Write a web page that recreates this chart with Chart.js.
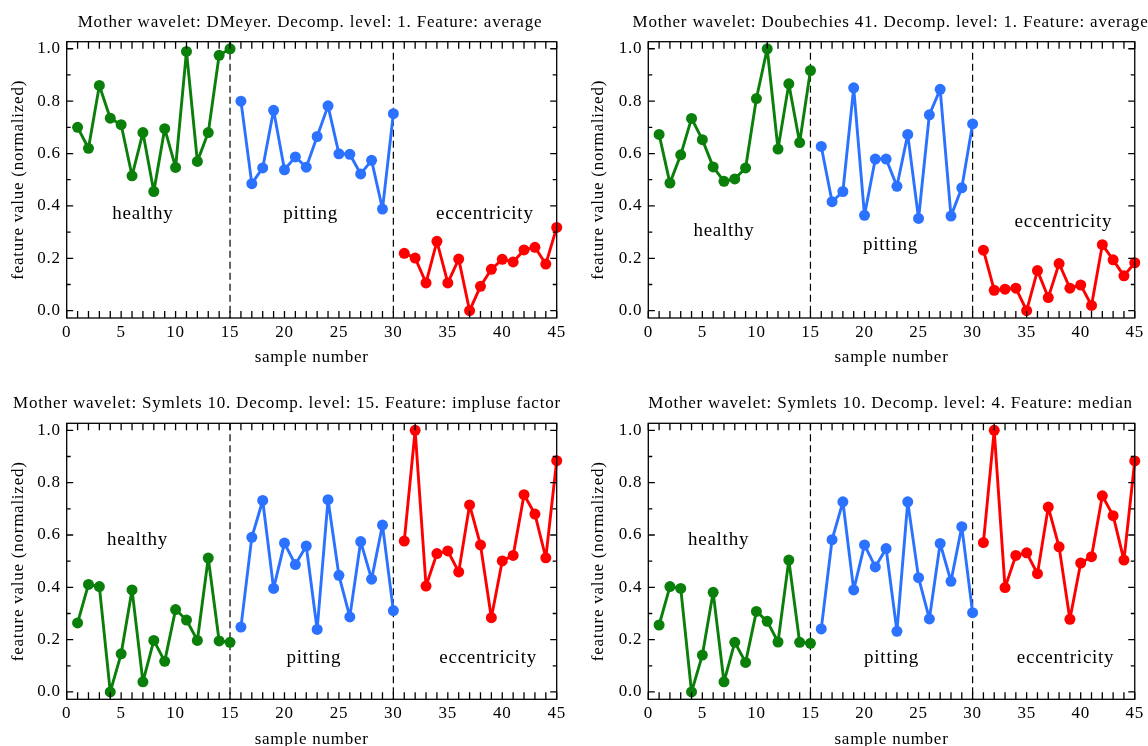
<!DOCTYPE html>
<html>
<head>
<meta charset="utf-8">
<script src="https://cdn.jsdelivr.net/npm/chart.js@4.4.1/dist/chart.umd.min.js"></script>
<style>
  html, body { margin: 0; padding: 0; background: #fff; overflow: hidden; width: 1148px; height: 746px; }
  canvas { position: absolute; }
</style>
</head>
<body>
<canvas id="panelA" width="574" height="373" style="left:0px;top:0px"></canvas>
<canvas id="panelB" width="574" height="373" style="left:574px;top:0px"></canvas>
<canvas id="panelC" width="574" height="380" style="left:0px;top:373px"></canvas>
<canvas id="panelD" width="574" height="380" style="left:574px;top:373px"></canvas>
<script>
// Classes of motor condition, 15 samples each
const classNames = ['healthy', 'pitting', 'eccentricity'];
const samplesPerClass = 15;
const classDividers = [15, 30];

// Axis ticks
const xTickValues = [0, 5, 10, 15, 20, 25, 30, 35, 40, 45];
const xMinorTickValues = Array.from({ length: 46 }, (_, i) => i);
const yTickValues = [0.0, 0.2, 0.4, 0.6, 0.8, 1.0];
const yMinorTickValues = [0.1, 0.3, 0.5, 0.7, 0.9];

// DMeyer, level 1, average
const dmeyerHealthy = [0.70, 0.62, 0.86, 0.735, 0.71, 0.515, 0.68, 0.455, 0.695, 0.547, 0.99, 0.57, 0.68, 0.975, 1.0];
const dmeyerPitting = [0.80, 0.485, 0.545, 0.765, 0.538, 0.587, 0.548, 0.665, 0.782, 0.599, 0.597, 0.522, 0.574, 0.388, 0.752];
const dmeyerEccentricity = [0.219, 0.201, 0.106, 0.265, 0.106, 0.197, 0.0, 0.093, 0.158, 0.196, 0.186, 0.232, 0.242, 0.178, 0.318];

// Daubechies 41, level 1, average
const db41Healthy = [0.673, 0.487, 0.595, 0.734, 0.653, 0.549, 0.494, 0.503, 0.545, 0.810, 1.0, 0.617, 0.866, 0.642, 0.917];
const db41Pitting = [0.627, 0.416, 0.455, 0.851, 0.364, 0.579, 0.579, 0.475, 0.673, 0.352, 0.748, 0.845, 0.361, 0.469, 0.713];
const db41Eccentricity = [0.231, 0.078, 0.082, 0.086, 0.0, 0.153, 0.05, 0.18, 0.086, 0.098, 0.02, 0.252, 0.194, 0.133, 0.183];

// Symlets 10, level 15, impulse factor
const sym10L15Healthy = [0.264, 0.411, 0.403, 0.0, 0.146, 0.390, 0.039, 0.197, 0.117, 0.315, 0.275, 0.197, 0.512, 0.195, 0.190];
const sym10L15Pitting = [0.248, 0.591, 0.732, 0.396, 0.569, 0.487, 0.558, 0.239, 0.735, 0.446, 0.287, 0.575, 0.431, 0.638, 0.311];
const sym10L15Eccentricity = [0.577, 1.0, 0.405, 0.529, 0.539, 0.459, 0.715, 0.562, 0.284, 0.501, 0.522, 0.754, 0.680, 0.513, 0.884];

// Symlets 10, level 4, median
const sym10L4Healthy = [0.256, 0.403, 0.396, 0.0, 0.141, 0.381, 0.039, 0.190, 0.113, 0.308, 0.270, 0.191, 0.504, 0.190, 0.186];
const sym10L4Pitting = [0.241, 0.582, 0.727, 0.390, 0.562, 0.478, 0.548, 0.232, 0.727, 0.437, 0.279, 0.568, 0.423, 0.632, 0.303];
const sym10L4Eccentricity = [0.571, 1.0, 0.399, 0.522, 0.532, 0.452, 0.707, 0.555, 0.278, 0.493, 0.517, 0.750, 0.674, 0.504, 0.883];

const panelTitles = [
  'Mother wavelet: DMeyer. Decomp. level: 1. Feature: average',
  'Mother wavelet: Doubechies 41. Decomp. level: 1. Feature: average',
  'Mother wavelet: Symlets 10. Decomp. level: 15. Feature: impluse factor',
  'Mother wavelet: Symlets 10. Decomp. level: 4. Feature: median'
];

// ---- styling and layout ----
const SERIF = "'Liberation Serif', 'Times New Roman', Times, serif";
const SPACING = '0.75px';
const classColors = ['#0a7f0a', '#2a72ff', '#ff0000'];
const AXIS_FONT = 17;
const LABEL_FONT = 19;

const panels = [
  { id: 'panelA', title: panelTitles[0], series: [dmeyerHealthy, dmeyerPitting, dmeyerEccentricity],
    area: { left: 66.7, right: 556.7, top: 41.7, bottom: 318 }, yTitleX: 18.7, xTitleY: 358,
    titleX: 310, titleY: 26.5,
    labelAt: [[7.0, 0.35], [22.4, 0.35], [38.4, 0.35]] },
  { id: 'panelB', title: panelTitles[1], series: [db41Healthy, db41Pitting, db41Eccentricity],
    area: { left: 74.3, right: 565, top: 41.7, bottom: 318 }, yTitleX: 24.7, xTitleY: 358,
    titleX: 316.5, titleY: 26.5,
    labelAt: [[7.0, 0.287], [22.4, 0.23], [38.4, 0.319]] },
  { id: 'panelC', title: panelTitles[2], series: [sym10L15Healthy, sym10L15Pitting, sym10L15Eccentricity],
    area: { left: 66.7, right: 556.7, top: 50.3, bottom: 326.3 }, yTitleX: 18.7, xTitleY: 366.3,
    titleX: 287, titleY: 35.3,
    labelAt: [[6.5, 0.563], [22.7, 0.111], [38.7, 0.111]] },
  { id: 'panelD', title: panelTitles[3], series: [sym10L4Healthy, sym10L4Pitting, sym10L4Eccentricity],
    area: { left: 74.3, right: 565, top: 50.3, bottom: 326.3 }, yTitleX: 24.7, xTitleY: 366.3,
    titleX: 316.5, titleY: 35.3,
    labelAt: [[6.5, 0.563], [22.5, 0.111], [38.6, 0.111]] }
];

// Frame, inward ticks, class dividers and text annotations
const decorPlugin = {
  id: 'decor',
  beforeLayout(chart) { chart.ctx.letterSpacing = SPACING; },
  beforeDraw(chart) { chart.ctx.letterSpacing = SPACING; },
  beforeDatasetsDraw(chart) {
    const { ctx, chartArea: a, scales: { x } } = chart;
    ctx.save();
    ctx.strokeStyle = '#000';
    ctx.lineWidth = 1.2;
    ctx.setLineDash([7, 4]);
    classDividers.forEach(v => {
      const px = x.getPixelForValue(v);
      ctx.beginPath();
      ctx.moveTo(px, a.top);
      ctx.lineTo(px, a.bottom);
      ctx.stroke();
    });
    ctx.restore();
  },
  afterDraw(chart) {
    const { ctx, chartArea: a, scales: { x, y } } = chart;
    const p = chart.options.plugins.decor;
    ctx.save();
    ctx.strokeStyle = '#000';
    ctx.lineWidth = 1.3;
    ctx.setLineDash([]);
    ctx.strokeRect(a.left, a.top, a.right - a.left, a.bottom - a.top);
    ctx.beginPath();
    xMinorTickValues.forEach(v => {
      const px = x.getPixelForValue(v);
      ctx.moveTo(px, a.bottom); ctx.lineTo(px, a.bottom - 7);
      ctx.moveTo(px, a.top); ctx.lineTo(px, a.top + 7);
    });
    yTickValues.forEach(v => {
      const py = y.getPixelForValue(v);
      ctx.moveTo(a.left, py); ctx.lineTo(a.left + 6.5, py);
      ctx.moveTo(a.right, py); ctx.lineTo(a.right - 6.5, py);
    });
    yMinorTickValues.forEach(v => {
      const py = y.getPixelForValue(v);
      ctx.moveTo(a.left, py); ctx.lineTo(a.left + 4, py);
      ctx.moveTo(a.right, py); ctx.lineTo(a.right - 4, py);
    });
    ctx.stroke();

    ctx.fillStyle = '#000';
    ctx.letterSpacing = SPACING;
    ctx.textAlign = 'center';
    ctx.textBaseline = 'alphabetic';
    ctx.font = `${LABEL_FONT}px ${SERIF}`;
    p.labelAt.forEach((pos, k) => {
      ctx.fillText(classNames[k], x.getPixelForValue(pos[0]), y.getPixelForValue(pos[1]));
    });
    ctx.letterSpacing = '0.8px';
    ctx.font = `${AXIS_FONT}px ${SERIF}`;
    ctx.fillText(p.title, p.titleX, p.titleY);
    ctx.restore();
  }
};

function buildChart(p) {
  const canvas = document.getElementById(p.id);
  const W = canvas.width, H = canvas.height;
  const half = AXIS_FONT * 1.2 / 2;
  const padLeft = p.yTitleX - half;
  const xScaleBottom = p.xTitleY + half;
  const datasets = p.series.map((values, k) => ({
    label: classNames[k],
    data: values.map((v, i) => ({ x: k * samplesPerClass + i + 1, y: v })),
    borderColor: classColors[k],
    backgroundColor: classColors[k],
    pointBackgroundColor: classColors[k],
    pointBorderColor: classColors[k],
    pointBorderWidth: 0,
    pointRadius: 5.5,
    borderWidth: 2.9,
    borderJoinStyle: 'round',
    borderCapStyle: 'round',
    tension: 0,
    fill: false,
    clip: false
  }));
  const tickFont = { family: SERIF, size: AXIS_FONT };
  return new Chart(canvas, {
    type: 'line',
    data: { datasets },
    plugins: [decorPlugin],
    options: {
      responsive: false,
      animation: false,
      devicePixelRatio: 1,
      events: [],
      layout: { padding: { left: padLeft, right: W - p.area.right, top: p.area.top, bottom: H - xScaleBottom } },
      plugins: {
        legend: { display: false },
        tooltip: { enabled: false },
        title: { display: false },
        decor: { labelAt: p.labelAt, title: p.title, titleX: p.titleX, titleY: p.titleY }
      },
      scales: {
        x: {
          type: 'linear', min: 0, max: 45,
          afterBuildTicks: s => { s.ticks = xTickValues.map(v => ({ value: v })); },
          afterFit: s => { s.height = xScaleBottom - p.area.bottom; },
          grid: { display: false, drawTicks: false },
          border: { display: false },
          ticks: { padding: 4, font: tickFont, color: '#000', maxRotation: 0, autoSkip: false, callback: v => String(v) },
          title: { display: true, text: 'sample number', font: tickFont, color: '#000', padding: 0 }
        },
        y: {
          type: 'linear', min: -0.028, max: 1.027,
          afterBuildTicks: s => { s.ticks = yTickValues.map(v => ({ value: v })); },
          afterFit: s => { s.width = p.area.left - padLeft; },
          grid: { display: false, drawTicks: false },
          border: { display: false },
          ticks: { padding: 6, font: tickFont, color: '#000', autoSkip: false, callback: v => Number(v).toFixed(1) },
          title: { display: true, text: 'feature value (normalized)', font: tickFont, color: '#000', padding: 0 }
        }
      }
    }
  });
}

panels.forEach(buildChart);
</script>
</body>
</html>
